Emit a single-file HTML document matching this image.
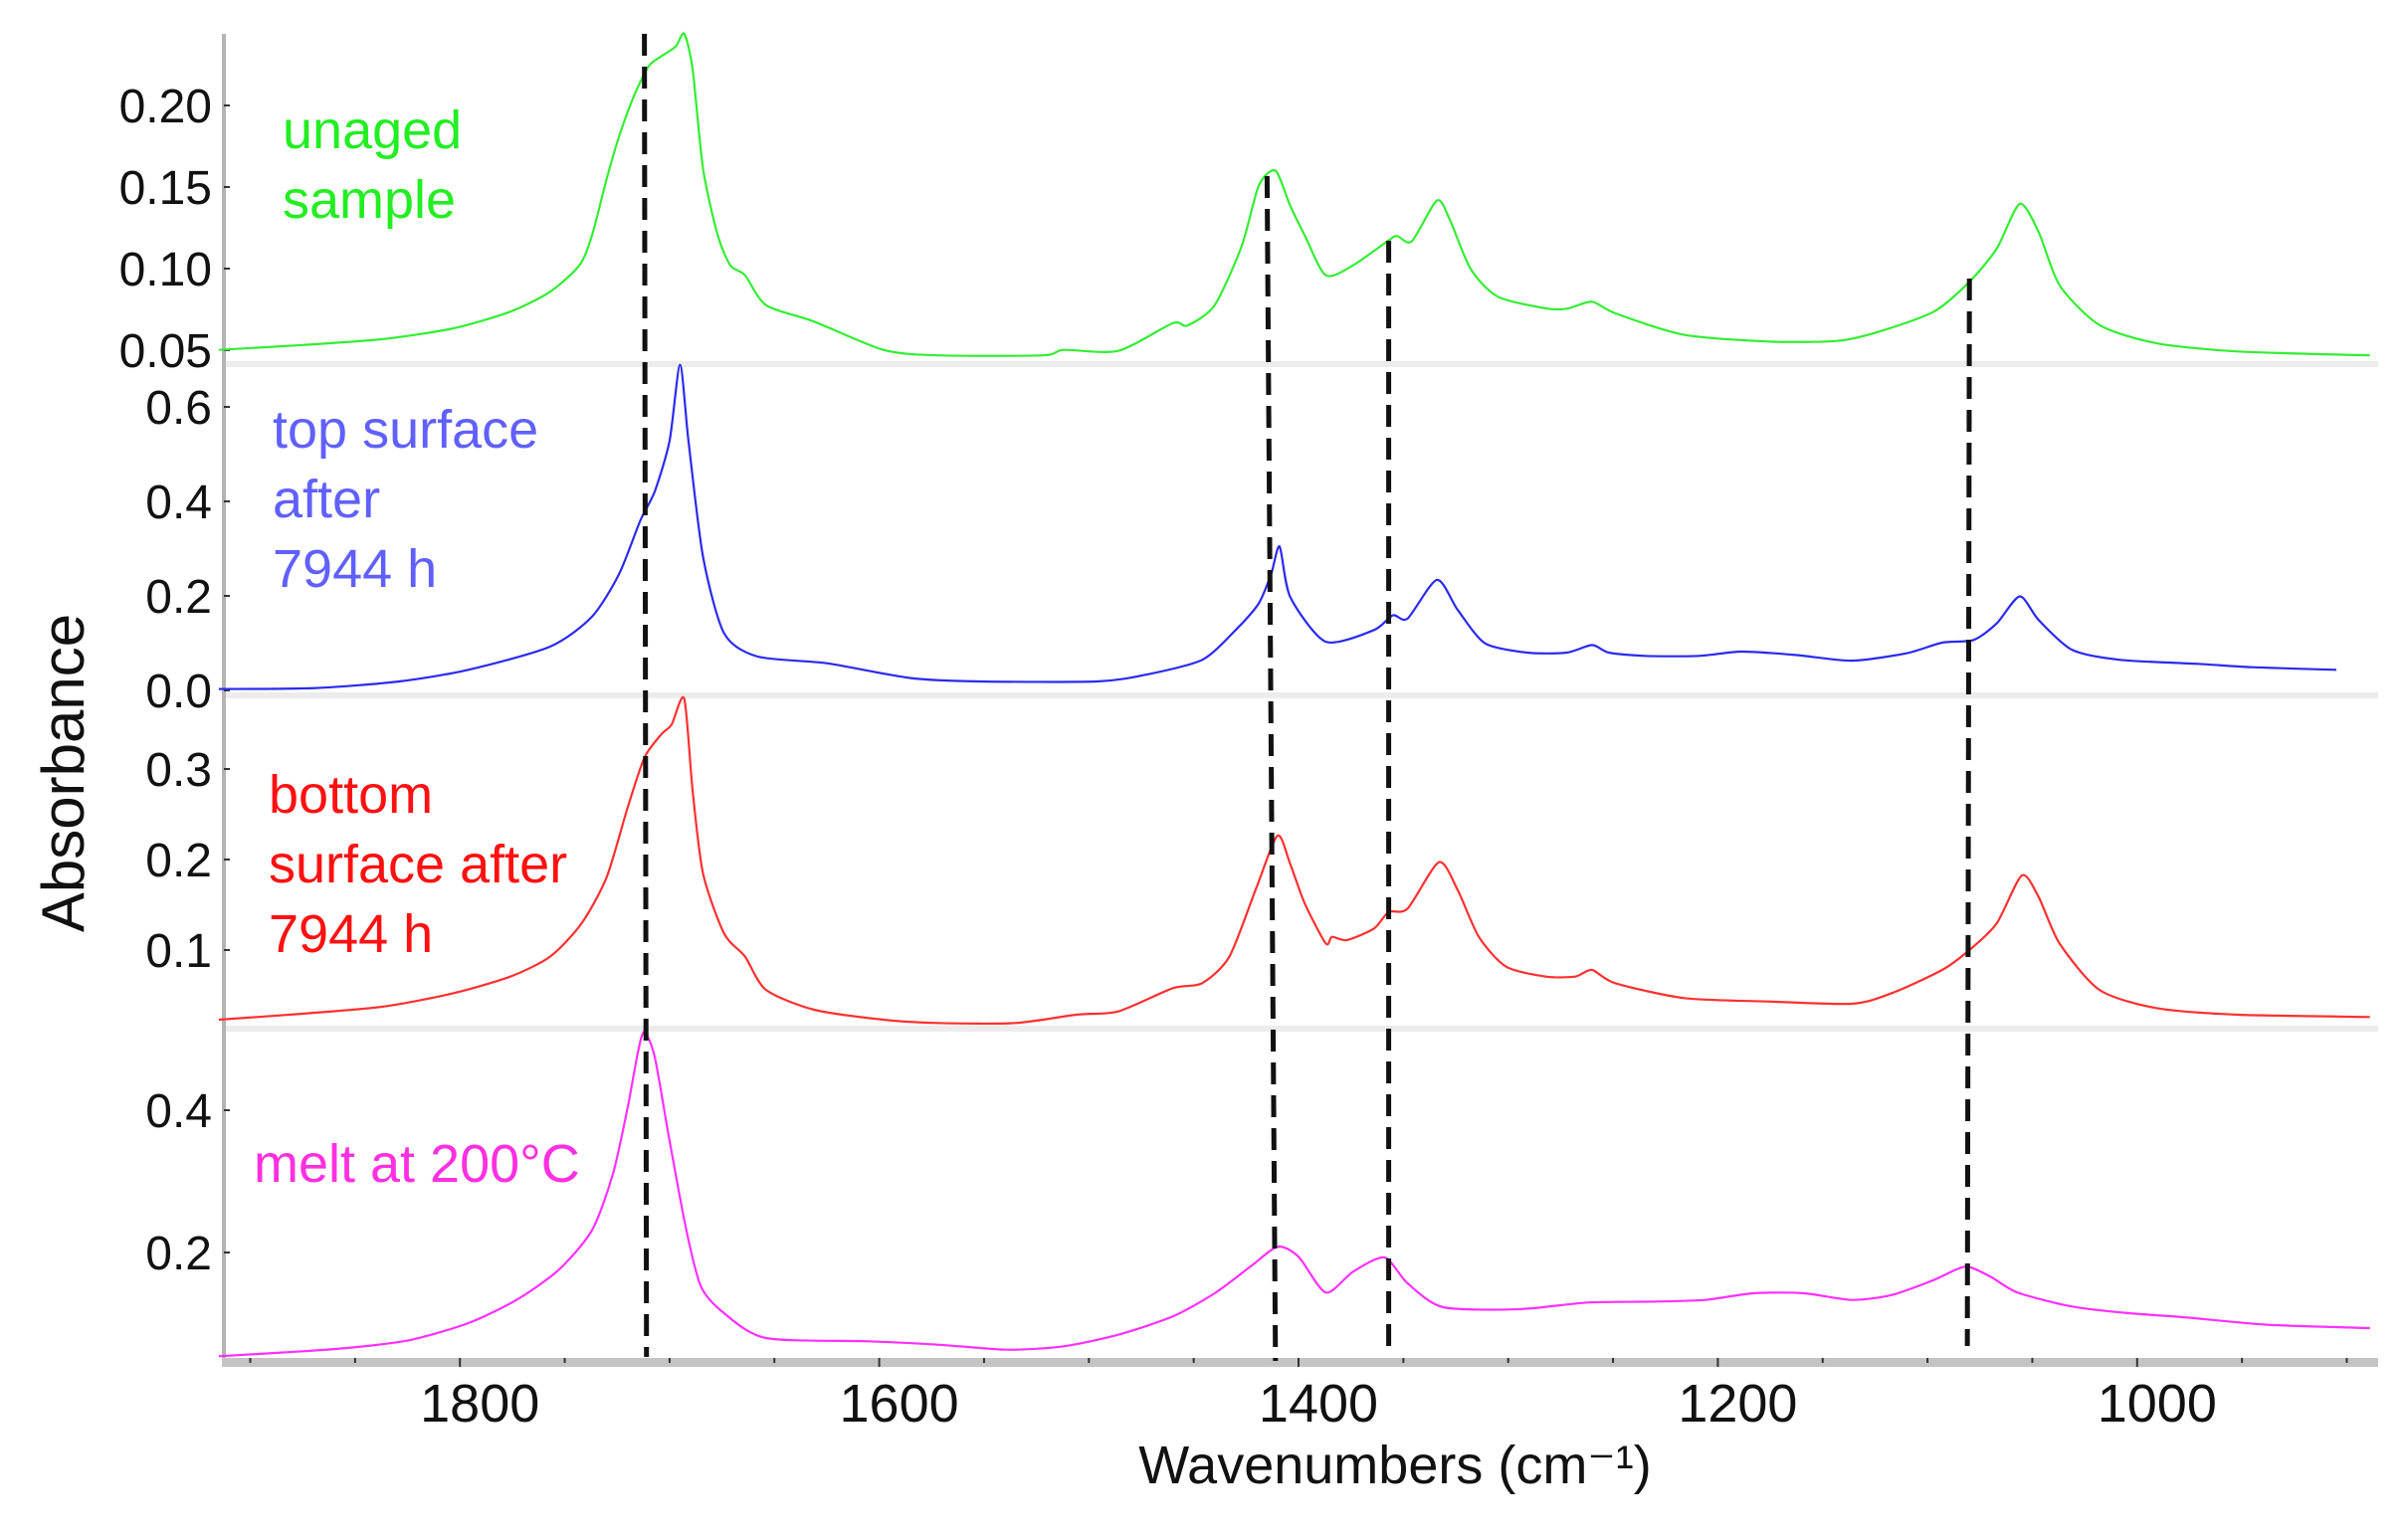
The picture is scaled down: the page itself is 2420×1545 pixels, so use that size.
<!DOCTYPE html>
<html><head><meta charset="utf-8"><style>
html,body{margin:0;padding:0;background:#fff;}
svg{display:block;font-family:"Liberation Sans",Arial,sans-serif;}
</style></head><body>
<svg id="chart" width="2420" height="1545" viewBox="0 0 2420 1545" xmlns="http://www.w3.org/2000/svg">
<rect width="2420" height="1545" fill="#fff"/>
<g id="frame"></g><g id="marks"></g><g id="labels"></g>
</svg>
<script>
const xTicks=[1800,1600,1400,1200,1000];
const dashTopW=[1712,1415,1357,1080];
const dashBotW=[1711,1411,1357,1081];
const dashTopY=[34,177,242,280];
const dashBotY=[1364,1368,1360,1353];

const greenW=[1915,1875,1836,1803,1776,1757,1743,1737,1730,1724,1717,1710,1704,1697,1693,1689,1684,1677,1671,1664,1654,1631,1598,1572,1522,1512,1486,1460,1453,1440,1427,1419,1411,1404,1397,1387,1374,1357,1353,1346,1334,1328,1318,1305,1282,1272,1260,1249,1216,1176,1143,1123,1097,1080,1067,1056,1047,1037,1018,991,952,889];
const greenA=[0.0502,0.0532,0.0569,0.0634,0.0736,0.0858,0.102,0.1203,0.155,0.1813,0.2058,0.224,0.2301,0.2362,0.244,0.222,0.161,0.1203,0.102,0.0959,0.0776,0.0675,0.0502,0.0468,0.0468,0.0502,0.0496,0.0665,0.0651,0.0776,0.1142,0.1508,0.16,0.1386,0.1203,0.0959,0.102,0.1173,0.12,0.1167,0.1417,0.1305,0.10,0.0828,0.0756,0.0754,0.0797,0.0726,0.0594,0.0553,0.0557,0.0614,0.0736,0.0919,0.1122,0.1397,0.1224,0.0898,0.0654,0.0543,0.0492,0.0468];
const blueW=[1915,1869,1829,1796,1757,1737,1724,1714,1707,1700,1695,1691,1684,1674,1658,1625,1585,1552,1496,1473,1446,1430,1419,1413,1409,1404,1387,1364,1355,1348,1334,1324,1311,1291,1272,1260,1252,1235,1209,1189,1163,1136,1110,1093,1078,1067,1056,1047,1031,1008,971,945,905];
const blueA=[0.003,0.005,0.019,0.0435,0.0926,0.156,0.247,0.359,0.422,0.528,0.689,0.528,0.282,0.121,0.0716,0.0575,0.026,0.019,0.019,0.033,0.0646,0.1277,0.184,0.247,0.3045,0.198,0.103,0.1277,0.159,0.152,0.234,0.170,0.0996,0.080,0.080,0.096,0.080,0.073,0.073,0.082,0.075,0.063,0.0786,0.101,0.1067,0.1417,0.199,0.149,0.0857,0.0646,0.0562,0.049,0.0436];
const redW=[1915,1875,1836,1803,1776,1757,1742,1730,1720,1712,1704,1699,1693,1689,1684,1674,1664,1654,1631,1598,1572,1535,1506,1486,1460,1446,1433,1420,1410,1404,1397,1387,1384,1377,1364,1357,1348,1333,1324,1314,1301,1282,1268,1260,1249,1216,1176,1136,1117,1093,1080,1067,1055,1047,1037,1018,991,952,889];
const redA=[0.0231,0.0297,0.0377,0.0524,0.0707,0.0927,0.1293,0.1806,0.2575,0.3125,0.3381,0.3491,0.3777,0.2758,0.1843,0.1183,0.0927,0.056,0.0341,0.0231,0.0194,0.0194,0.0286,0.0322,0.0579,0.0634,0.0927,0.1696,0.2264,0.1953,0.1513,0.1073,0.1146,0.111,0.1238,0.1421,0.1458,0.197,0.1659,0.1146,0.0817,0.0707,0.0707,0.078,0.0634,0.0469,0.0432,0.0407,0.0524,0.078,0.1,0.1293,0.1824,0.1586,0.1073,0.056,0.0359,0.0286,0.026];
const magW=[1915,1875,1849,1823,1796,1773,1753,1737,1727,1720,1715,1712,1707,1700,1692,1685,1674,1654,1605,1572,1539,1512,1486,1460,1440,1423,1410,1400,1387,1374,1359,1348,1331,1295,1262,1229,1206,1183,1159,1136,1117,1097,1082,1070,1057,1031,1004,978,938,889];
const magA=[0.0541,0.0611,0.0671,0.0774,0.1007,0.1333,0.1752,0.2312,0.3105,0.4038,0.4829,0.5101,0.4737,0.3571,0.2312,0.152,0.1147,0.0797,0.0751,0.0704,0.0634,0.0681,0.0844,0.1101,0.1427,0.18,0.208,0.194,0.1436,0.173,0.193,0.1566,0.1231,0.1203,0.1296,0.131,0.1333,0.1427,0.1427,0.1333,0.1403,0.1613,0.18,0.166,0.1436,0.124,0.1147,0.1091,0.0984,0.0937];

const greenTicks=[0.05,0.10,0.15,0.20];
const blueTicks=[0.0,0.2,0.4,0.6];
const redTicks=[0.1,0.2,0.3];
const magTicks=[0.2,0.4];

const NS="http://www.w3.org/2000/svg";
const xOf=w=>1305+(1400-w)*2.107;
const yGreen=v=>352-(v-0.05)*1640;
const yBlue=v=>694-v*475;
const yRed=v=>955-(v-0.1)*910;
const yMag=v=>1259-(v-0.2)*715;
const X0=225,X1=2390;
function mk(tag,attrs,parent){const e=document.createElementNS(NS,tag);for(const k in attrs)e.setAttribute(k,attrs[k]);parent.appendChild(e);return e;}
const frame=document.getElementById('frame'),marks=document.getElementById('marks'),labels=document.getElementById('labels');

[366,699,1034].forEach((y,i)=>{
 const l=mk('rect',{x:X0,y:y-3,width:X1-X0,height:6,fill:'#ececec'},frame);
 
 
});
const ax=mk('rect',{x:X0-2,y:34,width:4,height:1340,fill:'#b4b4b4'},frame);


const bx=mk('rect',{x:X0-2,y:1365,width:X1-X0+2,height:9,fill:'#c4c4c4'},frame);


for(let w=1900;w>=900;w-=50){
 const x=xOf(w);
 const t=mk('line',{x1:x,x2:x,y1:1365,y2:w%200===0?1374:1370,stroke:'#333','stroke-width':2},frame);
 
 
}
xTicks.forEach(w=>{
 const t=mk('text',{x:xOf(w)+20,y:1429,'text-anchor':'middle','font-size':54,fill:'#111'},labels);
 t.textContent=w;
 
 
});
function yt(ticks,fn,name,dec){
 ticks.forEach(v=>{
  const y=fn(v);
  const m=mk('line',{x1:X0,x2:X0+6,y1:y,y2:y,stroke:'#333','stroke-width':2},frame);
  
  
  const t=mk('text',{x:213,y:y+17,'text-anchor':'end','font-size':48,fill:'#111'},labels);
  t.textContent=v.toFixed(dec);
  
  
 });
}
yt(greenTicks,yGreen,'unaged-y',2);
yt(blueTicks,yBlue,'top-surface-y',1);
yt(redTicks,yRed,'bottom-surface-y',1);
yt(magTicks,yMag,'melt-y',1);

function series(W,A,fn,color,name){
 const P=W.map((w,i)=>[xOf(w),fn(A[i])]);
 let d='M'+P[0][0].toFixed(1)+','+P[0][1].toFixed(1);
 for(let i=0;i<P.length-1;i++){
  const p0=P[Math.max(0,i-1)],p1=P[i],p2=P[i+1],p3=P[Math.min(P.length-1,i+2)];
  const k=1/8;
  const c1=[p1[0]+(p2[0]-p0[0])*k,p1[1]+(p2[1]-p0[1])*k];
  const c2=[p2[0]-(p3[0]-p1[0])*k,p2[1]-(p3[1]-p1[1])*k];
  d+='C'+c1[0].toFixed(1)+','+c1[1].toFixed(1)+' '+c2[0].toFixed(1)+','+c2[1].toFixed(1)+' '+p2[0].toFixed(1)+','+p2[1].toFixed(1);
 }
 const p=mk('path',{d:d,fill:'none',stroke:color,'stroke-width':2.2,'stroke-linejoin':'round'},marks);
 
 
}
series(greenW,greenA,yGreen,'#33ee33','unaged-sample-spectrum');
series(blueW,blueA,yBlue,'#2a2aee','top-surface-spectrum');
series(redW,redA,yRed,'#ff3030','bottom-surface-spectrum');
series(magW,magA,yMag,'#ff30ff','melt-spectrum');

dashTopW.forEach((w,i)=>{
 const l=mk('line',{x1:xOf(w),y1:dashTopY[i],x2:xOf(dashBotW[i]),y2:dashBotY[i],stroke:'#111','stroke-width':5,'stroke-dasharray':'22 11'},marks);
 
 
});

function txt(lines,x,ys,color,name,fs){
 lines.forEach((s,i)=>{
  const t=mk('text',{x:x,y:ys[i],'font-size':fs,fill:color},labels);
  t.textContent=s;
  
  
 });
}
txt(['unaged','sample'],284,[149,219],'#22ee22','unaged-label',54);
txt(['top surface','after','7944 h'],274,[450,520,590],'#6060ff','top-surface-label',54);
txt(['bottom','surface after','7944 h'],270,[817,887,957],'#ff1010','bottom-surface-label',54);
txt(['melt at 200°C'],255,[1188],'#ff30e0','melt-label',54);

const xt=mk('text',{x:1402,y:1491,'text-anchor':'middle','font-size':54,fill:'#111'},labels);
xt.textContent='Wavenumbers (cm⁻¹)';


const ytl=mk('text',{x:0,y:0,'text-anchor':'middle','font-size':60,fill:'#111',transform:'translate(84,777) rotate(-90)'},labels);
ytl.textContent='Absorbance';


</script>
</body></html>
